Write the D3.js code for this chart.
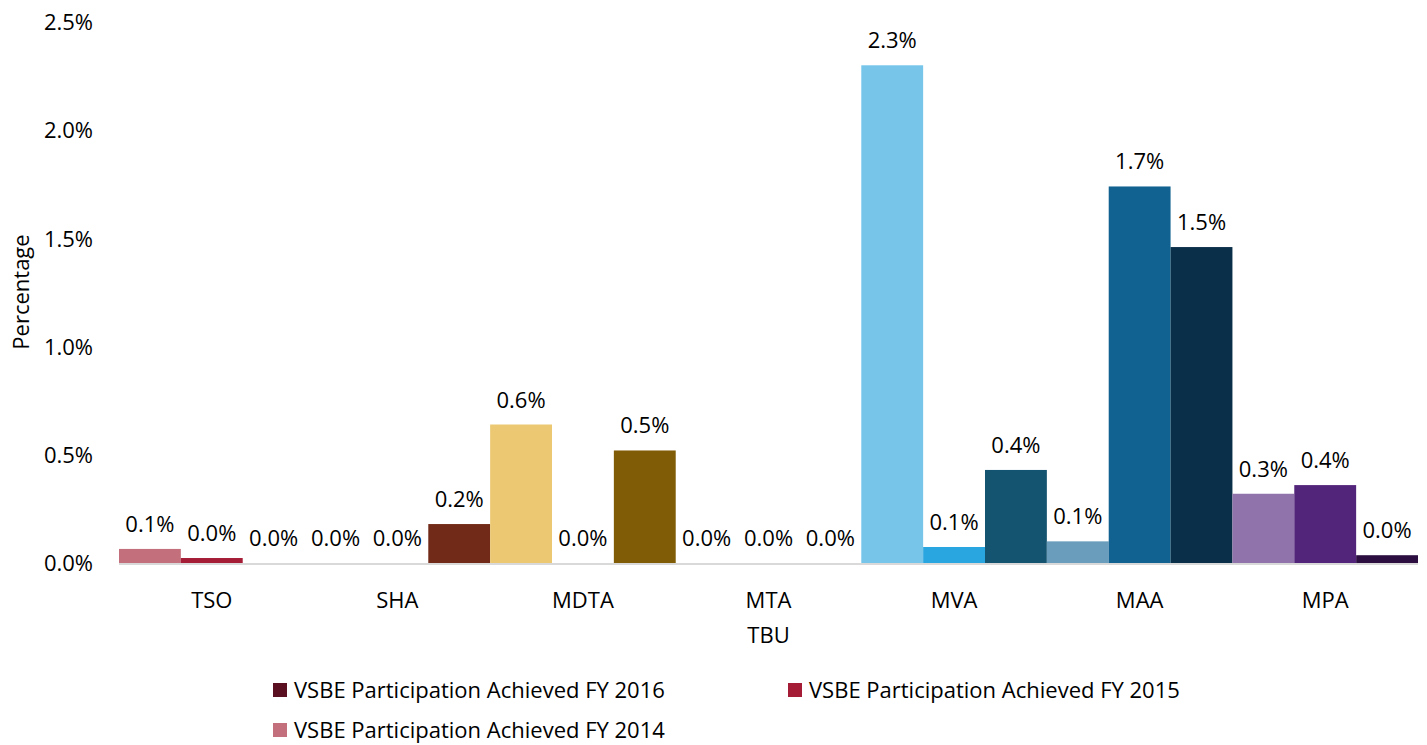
<!DOCTYPE html>
<html>
<head>
<meta charset="utf-8">
<script src="https://cdn.jsdelivr.net/npm/d3@7"></script>
<style>
  body { margin: 0; background: #fff; }
  text { font-family: "Open Sans", "Noto Sans", sans-serif; fill: #000; }
</style>
</head>
<body>
<div id="chart"></div>
<script>
// TBU categories and the three fiscal years
var categories = ["TSO", "SHA", "MDTA", "MTA", "MVA", "MAA", "MPA"];
var years = ["FY 2014", "FY 2015", "FY 2016"];

// VSBE participation achieved, in percent
var fy2014 = [0.065, 0, 0.64, 0, 2.30, 0.10, 0.32];
var fy2015 = [0.023, 0, 0, 0, 0.074, 1.74, 0.36];
var fy2016 = [0, 0.18, 0.52, 0, 0.43, 1.46, 0.036];

// every bar has its own colour in the original, per category
var colors2014 = ["#c4707c", "#c4707c", "#ecc873", "#ecc873", "#77c6ea", "#6a9cbb", "#8f73aa"];
var colors2015 = ["#a51c36", "#a51c36", "#9a7410", "#9a7410", "#29a5df", "#116291", "#52247a"];
var colors2016 = ["#5a1020", "#722a18", "#805c06", "#805c06", "#145470", "#0a2f48", "#2c0e40"];

var yTicks = [0, 0.5, 1.0, 1.5, 2.0, 2.5];

var legendItems = [
  { name: "VSBE Participation Achieved FY 2016", color: "#5a1020" },
  { name: "VSBE Participation Achieved FY 2015", color: "#a51c36" },
  { name: "VSBE Participation Achieved FY 2014", color: "#c4707c" }
];

var width = 1427,
    height = 745,
    margin = { top: 22, right: 9, bottom: 182, left: 119 },
    fontSize = "22px";

var series = [fy2014, fy2015, fy2016];
var seriesColors = [colors2014, colors2015, colors2016];

var data = [];
categories.forEach(function(c, i) {
  years.forEach(function(y, j) {
    data.push({ cat: c, year: y, value: series[j][i], color: seriesColors[j][i] });
  });
});

var svg = d3.select("#chart").append("svg")
    .attr("width", width)
    .attr("height", height);

var x0 = d3.scaleBand()
    .domain(categories)
    .range([margin.left, width - margin.right])
    .paddingInner(0)
    .paddingOuter(0);

var x1 = d3.scaleBand()
    .domain(years)
    .range([0, x0.bandwidth()])
    .padding(0);

var y = d3.scaleLinear()
    .domain([0, 2.5])
    .range([height - margin.bottom, margin.top]);

var fmt = function(v) { return d3.format(".1f")(v) + "%"; };

// y axis: labels only
var yAxis = svg.append("g")
    .attr("transform", "translate(" + (margin.left - 26) + ",0)")
    .call(d3.axisLeft(y).tickValues(yTicks).tickFormat(fmt).tickSize(0).tickPadding(0));
yAxis.select(".domain").remove();
yAxis.selectAll("text")
    .style("font-size", fontSize)
    .attr("dy", "0.35em");

// bars
svg.append("g")
    .selectAll("rect")
    .data(data)
    .enter().append("rect")
    .attr("x", function(d) { return x0(d.cat) + x1(d.year); })
    .attr("width", x1.bandwidth())
    .attr("y", function(d) { return y(d.value); })
    .attr("height", function(d) { return y(0) - y(d.value); })
    .attr("fill", function(d) { return d.color; });

// x axis baseline
svg.append("line")
    .attr("x1", x0.range()[0])
    .attr("x2", x0.range()[1])
    .attr("y1", y(0) + 1)
    .attr("y2", y(0) + 1)
    .style("stroke", "#d9d9d9")
    .style("stroke-width", 2);

// value labels
svg.append("g")
    .selectAll("text")
    .data(data)
    .enter().append("text")
    .attr("x", function(d) { return x0(d.cat) + x1(d.year) + x1.bandwidth() / 2; })
    .attr("y", function(d) { return y(d.value) - 17; })
    .attr("text-anchor", "middle")
    .style("font-size", fontSize)
    .text(function(d) { return fmt(d.value); });

// category labels
var xAxis = svg.append("g")
    .attr("transform", "translate(0," + y(0) + ")")
    .call(d3.axisBottom(x0).tickSize(0).tickPadding(0));
xAxis.select(".domain").remove();
xAxis.selectAll("text")
    .attr("y", 45)
    .attr("dy", 0)
    .style("font-size", fontSize);

// axis titles
svg.append("text")
    .attr("x", (x0.range()[0] + x0.range()[1]) / 2)
    .attr("y", 643)
    .attr("text-anchor", "middle")
    .style("font-size", fontSize)
    .text("TBU");

svg.append("text")
    .attr("transform", "translate(29,292) rotate(-90)")
    .attr("text-anchor", "middle")
    .style("font-size", fontSize)
    .text("Percentage");

// legend
var legendPos = [[273, 690], [788, 690], [273, 730]];
var legend = svg.append("g")
    .selectAll("g")
    .data(legendItems)
    .enter().append("g")
    .attr("transform", function(d, i) { return "translate(" + legendPos[i][0] + "," + legendPos[i][1] + ")"; });

legend.append("rect")
    .attr("x", 0)
    .attr("y", -7)
    .attr("width", 14)
    .attr("height", 14)
    .attr("fill", function(d) { return d.color; });

legend.append("text")
    .attr("x", 21)
    .attr("y", 0)
    .attr("dy", "0.35em")
    .style("font-size", fontSize)
    .text(function(d) { return d.name; });
</script>
</body>
</html>
